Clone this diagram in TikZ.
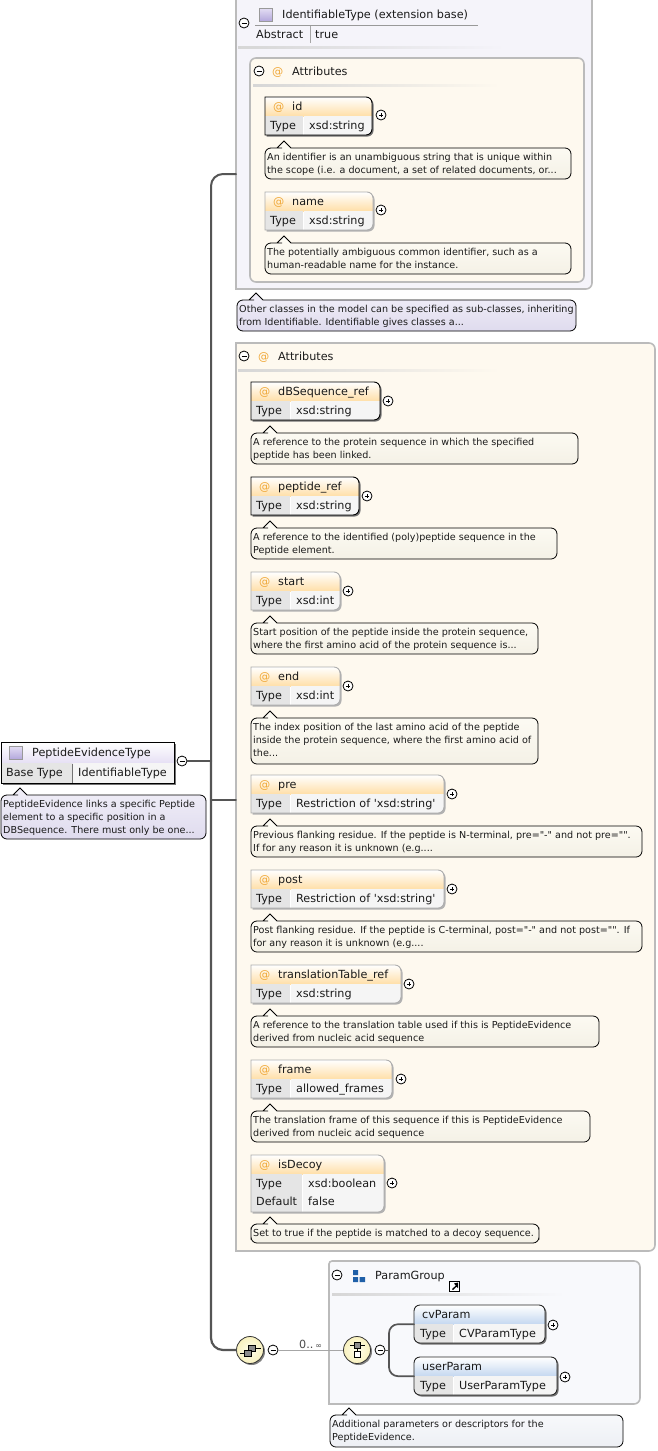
\documentclass[tikz,border=0pt]{standalone}
\usepackage{fontspec}
\newfontfamily\df{DejaVu Sans}
\usetikzlibrary{calc}
\definecolor{bluegrp}{HTML}{2060A8}
\definecolor{orangeat}{HTML}{F0A838}
\definecolor{attrbg}{HTML}{FEF9EF}
\definecolor{typebg}{HTML}{F5F4FA}
\definecolor{groupbg}{HTML}{F8F9FC}
\definecolor{framegray}{HTML}{BBBBBB}
\definecolor{linkgray}{HTML}{555555}
\definecolor{txtc}{HTML}{1A1A1A}
\definecolor{cellA}{HTML}{E5E5E5}
\definecolor{cellB}{HTML}{F5F5F5}
\definecolor{hdattr}{HTML}{FFDFA8}
\definecolor{hdelem}{HTML}{C5D8F0}
\definecolor{hdtype}{HTML}{E6E0F4}
\definecolor{iconA}{HTML}{E4DEF4}
\definecolor{iconB}{HTML}{B4A8DC}
\definecolor{docAa}{HTML}{FEFCF5}
\definecolor{docAb}{HTML}{F4F1E6}
\definecolor{docTa}{HTML}{F1EFF8}
\definecolor{docTb}{HTML}{DFDBEE}
\definecolor{docGa}{HTML}{FAFBFD}
\definecolor{docGb}{HTML}{EDEFF4}
\definecolor{icoA}{HTML}{FFFEEC}
\definecolor{icoB}{HTML}{F8F1BE}
\tikzset{
  x=1pt,y=-1pt,
  txt/.style={anchor=base west,inner sep=0pt,text=txtc,font=\df\fontsize{11.2}{13}\selectfont},
  doctxt/.style={anchor=north west,inner sep=0pt,align=left,text=txtc,font=\df\fontsize{9.6}{13}\selectfont},
  docattr/.style={draw=black,line width=.8pt,top color=docAa,bottom color=docAb},
  doctype/.style={draw=black,line width=.8pt,top color=docTa,bottom color=docTb},
  docgroup/.style={draw=black,line width=.8pt,top color=docGa,bottom color=docGb},
  togc/.style={circle,draw=black,fill=white,line width=.8pt,minimum size=10pt,inner sep=0pt},
  holder/.style={inner sep=0pt,anchor=north west,rectangle},
  link/.style={draw=linkgray,line cap=round},
  panel/.style={draw=framegray,line width=1.6pt},
  iconc/.style={circle,draw=black!80,line width=.8pt,minimum size=27pt,inner sep=0pt,inner color=icoA,outer color=icoB},
}
\newcommand\tog[3]{\node[togc] (#1) at (#2,#3) {};\draw[line width=.8pt] ({#2-2.5},#3) -- ({#2+2.5},#3);}
\newcommand\plusc[3]{\node[togc] (#1) at (#2,#3) {};\draw[line width=.7pt] ({#2-2.2},#3) -- ({#2+2.2},#3) ({#2},{#3-2.2}) -- ({#2},{#3+2.2});}
\newcommand\gline[4]{\shade[left color=black!16,right color=#4] (#1,#3) rectangle (#2,{#3+2});}
\newcommand\typeicon[2]{\shade[top color=iconA,bottom color=iconB,draw=black!40,line width=.7pt] (#1,#2) rectangle ({#1+13},{#2+13});}
% #1 id #2 x #3 y #4 xr #5 yb #6 style #7 text
\newcommand\doc[7]{%
  \path[#6,rounded corners=6pt] (#2,{(#3+#5)/2}) |- ({#2+11},#3) [sharp corners] -- ({#2+12},#3) -- ({#2+19},{#3-7}) -- ({#2+26},#3) -- ({#2+27},#3) [rounded corners=6pt] -| (#4,{(#3+#5)/2}) |- ({(#2+#4)/2},#5) -| (#2,{(#3+#5)/2}) -- cycle;
  \node[doctxt] (#1) at ({#2+2},{#3+3.5}) {\rule{0pt}{9pt}#7};}
% #1 id #2 x #3 y #4 xr #5 col #6 name #7 type #8 default #9 kind: 0 attr req,1 attr opt,2 elem
\newcommand\xbox[9]{%
  \def\dflt{#8}\ifx\dflt\empty\def\boxh{38}\else\def\boxh{57}\fi
  \pgfmathsetmacro\yb{#3+\boxh}\pgfmathsetmacro\ym{#3+\boxh/2}
  \ifnum#9=2 \def\rl{6pt}\def\hdc{hdelem}\def\bc{black!85}\def\nx{8}\def\tx{6}\def\shc{black!55}\else\def\rl{0pt}\def\hdc{hdattr}\def\nx{27}\def\tx{5}\ifnum#9=0 \def\bc{black}\def\shc{black!55}\else\def\bc{black!32}\def\shc{black!30}\fi\fi
  \def\bpath{[rounded corners=\rl] (#2,\ym) |- ({(#2+#4)/2},#3) [rounded corners=6pt] -| (#4,\ym) |- ({(#2+#4)/2},\yb) [rounded corners=\rl] -| (#2,\ym) -- cycle}%
  \begin{scope}[shift={(1.5,1.5)}]\fill[\shc] \bpath;\end{scope}
  \begin{scope}\clip \bpath;
    \fill[white] (#2,#3) rectangle (#4,\yb);
    \shade[top color=white,bottom color=\hdc] (#2,#3) rectangle (#4,{#3+19});
    \fill[cellA] (#2,{#3+19}) rectangle (#5,{#3+37.5});
    \fill[cellB] ({#5+1},{#3+19}) rectangle (#4,{#3+37.5});
    \ifx\dflt\empty\else
      \fill[cellA] (#2,{#3+38}) rectangle (#5,\yb);
      \fill[cellB] ({#5+1},{#3+38}) rectangle (#4,\yb);
    \fi
  \end{scope}
  \path[draw=\bc,line width=.9pt] \bpath;
  \node[holder,minimum width=#4-#2,minimum height=\boxh] (#1) at (#2,#3) {};
  \ifnum#9=2 \else\node[txt,text=orangeat] (#1at) at ({#2+8},{#3+13}) {@};\fi
  \node[txt] (#1name) at ({#2+\nx},{#3+13}) {#6};
  \node[txt] (#1tl) at ({#2+\tx},{#3+32.5}) {Type};
  \node[txt] (#1tv) at ({#5+6},{#3+32.5}) {#7};
  \ifx\dflt\empty\else
    \node[txt] (#1dl) at ({#2+\tx},{#3+50.5}) {Default};
    \node[txt] (#1dv) at ({#5+6},{#3+50.5}) {#8};
  \fi}
\newcommand\attr[7]{\xbox{#1}{251}{#2}{#3}{#4}{#5}{#6}{#7}{1}}
\begin{document}
\begin{tikzpicture}
\useasboundingbox (0,0) rectangle (657,1451);
\fill[white] (0,0) rectangle (657,1451);
% ---- outer extension panel
\path[panel,fill=typebg,rounded corners=0pt] (236,-2) -- (592,-2) [rounded corners=6pt] -- (592,289) [rounded corners=0pt] -- (236,289) -- cycle;
\node[holder,minimum width=356,minimum height=291] (ident) at (236,-2) {};
\coordinate (identin) at (236,174);
\typeicon{259}{8}
\node[txt] (identname) at (282,18) {IdentifiableType (extension base)};
\draw[black!40,line width=.7pt] (255,25.5) -- (478,25.5);
\draw[black!35,line width=.7pt] (310,25.5) -- (310,43);
\tog{identtog}{244}{23}
\node[txt] (abstractl) at (256,38) {Abstract};
\node[txt] (abstractv) at (315,38) {true};
\gline{238}{505}{46}{typebg}
% ---- inner attributes
\path[panel,fill=attrbg,rounded corners=6pt] (250,170) |- (417,58) -| (584,170) |- (417,282) -| (250,170) -- cycle;
\tog{iattog}{259}{71}
\node[txt,text=orangeat] (iatat) at (272,75) {@};
\node[txt] (iatname) at (292,75) {Attributes};
\gline{253}{500}{84.5}{attrbg}
\xbox{id}{265}{97}{372}{303}{id}{xsd:string}{}{0}
\plusc{idp}{381}{115}
\doc{iddoc}{265}{148}{571}{179}{docattr}{An identifier is an unambiguous string that is unique within\\the scope (i.e. a document, a set of related documents, or...}
\xbox{nm}{265}{192}{373}{303}{name}{xsd:string}{}{1}
\plusc{nmp}{381}{210}
\doc{nmdoc}{265}{243}{571}{274}{docattr}{The potentially ambiguous common identifier, such as a\\human-readable name for the instance.}
\doc{identdoc}{237}{300}{576}{331}{doctype}{Other classes in the model can be specified as sub-classes, inheriting\\from Identifiable. Identifiable gives classes a...}
% ---- big attributes
\path[panel,fill=attrbg,rounded corners=0pt] (236,343) [rounded corners=6pt] -| (655,800) |- (400,1251) [rounded corners=0pt] -| (236,343) -- cycle;
\node[holder,minimum width=419,minimum height=908] (attrs) at (236,343) {};
\coordinate (attrsin) at (236,800);
\tog{attog}{244}{356}
\node[txt,text=orangeat] (atat) at (258,360) {@};
\node[txt] (atname) at (278,360) {Attributes};
\gline{238}{500}{369.5}{attrbg}
\xbox{dbs}{251}{382}{380}{290}{dBSequence\_ref}{xsd:string}{}{0}
\plusc{dbsp}{388}{401}
\doc{dbsdoc}{251}{433}{578}{464}{docattr}{A reference to the protein sequence in which the specified\\peptide has been linked.}
\xbox{pep}{251}{477}{359}{290}{peptide\_ref}{xsd:string}{}{0}
\plusc{pepp}{367}{496}
\doc{pepdoc}{251}{528}{557}{559}{docattr}{A reference to the identified (poly)peptide sequence in the\\Peptide element.}
\attr{st}{572}{340}{290}{start}{xsd:int}{}
\plusc{stp}{348}{591}
\doc{stdoc}{251}{623}{538}{654}{docattr}{Start position of the peptide inside the protein sequence,\\where the first amino acid of the protein sequence is...}
\attr{en}{667}{340}{290}{end}{xsd:int}{}
\plusc{enp}{348}{686}
\doc{endoc}{251}{718}{538}{764}{docattr}{The index position of the last amino acid of the peptide\\inside the protein sequence, where the first amino acid of\\the...}
\attr{pr}{775}{444}{290}{pre}{Restriction of 'xsd:string'}{}
\plusc{prp}{452}{794}
\doc{prdoc}{251}{826}{642}{857}{docattr}{Previous flanking residue. If the peptide is N-terminal, pre="-" and not pre="".\\If for any reason it is unknown (e.g....}
\attr{po}{870}{444}{290}{post}{Restriction of 'xsd:string'}{}
\plusc{pop}{452}{889}
\doc{podoc}{251}{921}{642}{952}{docattr}{Post flanking residue. If the peptide is C-terminal, post="-" and not post="". If\\for any reason it is unknown (e.g....}
\attr{tt}{965}{401}{290}{translationTable\_ref}{xsd:string}{}
\plusc{ttp}{409}{984}
\doc{ttdoc}{251}{1016}{599}{1047}{docattr}{A reference to the translation table used if this is PeptideEvidence\\derived from nucleic acid sequence}
\attr{fr}{1060}{392}{290}{frame}{allowed\_frames}{}
\plusc{frp}{401}{1079}
\doc{frdoc}{251}{1111}{590}{1142}{docattr}{The translation frame of this sequence if this is PeptideEvidence\\derived from nucleic acid sequence}
\attr{de}{1155}{384}{302}{isDecoy}{xsd:boolean}{false}
\plusc{dep}{392}{1183}
\doc{dedoc}{251}{1224}{539}{1243}{docattr}{Set to true if the peptide is matched to a decoy sequence.}
% ---- root type
\fill[black!55] (2.5,743.5) rectangle (175.5,784.5);
\shade[top color=white,bottom color=hdtype] (1,742) rectangle (174,763);
\fill[cellA] (1,763) rectangle (72,783);
\fill[cellB] (73,763) rectangle (174,783);
\draw[black,line width=.9pt] (1,742) rectangle (174,783);
\node[holder,minimum width=173,minimum height=41] (pet) at (1,742) {};
\typeicon{9}{746}
\node[txt] (petname) at (32,756) {PeptideEvidenceType};
\node[txt] (petl) at (6,776.5) {Base Type};
\node[txt] (petv) at (78,776.5) {IdentifiableType};
\tog{pettog}{182}{761}
\doc{petdoc}{1}{795}{206}{839}{doctype}{PeptideEvidence links a specific Peptide\\element to a specific position in a\\DBSequence. There must only be one...}
% ---- param group
\path[panel,fill=groupbg,rounded corners=3pt] (329,1330) |- (480,1261) [rounded corners=6pt] -| (640,1330) |- (480,1404) [rounded corners=0pt] -| (329,1330) -- cycle;
\node[holder,minimum width=311,minimum height=143] (group) at (329,1261) {};
\coordinate (groupin) at (329,1350);
\tog{grouptog}{337}{1275}
\fill[bluegrp] (353,1270) rectangle (358,1275) (353,1277) rectangle (358,1282) (359.5,1277) rectangle (365,1282);
\node[txt] (groupname) at (375,1279) {ParamGroup};
\draw[black,fill=white,line width=1pt] (449.5,1281) rectangle (459.5,1291);
\fill[black] (452,1289) -- (456,1285.5) -- (454,1283.5) -- (458,1282.5) -- (458,1288) -- (456.5,1286.5) -- (453,1290) -- cycle;
\gline{332}{565}{1293.5}{groupbg}
\xbox{cv}{414}{1305}{545}{453}{cvParam}{CVParamType}{}{2}
\plusc{cvp}{553}{1325}
\xbox{us}{414}{1357}{557}{453}{userParam}{UserParamType}{}{2}
\plusc{usp}{565}{1377}
\doc{groupdoc}{330}{1415}{623}{1447}{docgroup}{Additional parameters or descriptors for the\\PeptideEvidence.}
% ---- sequence + choice
\coordinate (trunk) at (211,761);
\draw[link,line width=2.4pt] (pettog.east) -- (trunk);
\draw[link,line width=2pt,rounded corners=12pt] (trunk) |- (identin);
\draw[link,line width=1.5pt] (211,800) -- (attrsin);
\fill[black!50] (251.5,1351.5) circle (13.5pt);
\fill[black!50] (358.5,1351.5) circle (13.5pt);
\node[iconc] (seq) at (250,1350) {};
\node[iconc] (cho) at (357,1350) {};
\draw[link,line width=2.2pt,rounded corners=12pt] (trunk) |- (seq.west);
\tog{seqtog}{273}{1350}
\tog{chotog}{380}{1350}
\draw[black!35,line width=.8pt] (seqtog.east) -- (cho.west);
\node[txt,text=black!70] (occ) at (299,1348) {0..\,\fontsize{8}{10}\selectfont∞};
% sequence glyph
\draw[black,line width=.7pt] (240,1353) -- (244.3,1353) (255.5,1348) -- (261,1348);
\draw[black,fill=black!45,line width=.7pt] (248.7,1345) rectangle (255.5,1351.7);
\draw[black,fill=black!45,line width=.7pt] (244.3,1350) rectangle (251,1356.7);
% choice glyph
\draw[black,line width=.7pt] (350,1345.5) -- (365,1345.5) (357.5,1345.5) -- (357.5,1351.5);
\draw[black,fill=black!45,line width=.7pt] (354.3,1342.7) rectangle (360.7,1348.2);
\draw[black,fill=white,line width=.7pt] (354.3,1351.5) rectangle (360.7,1357.3);
% choice to children
\coordinate (fork) at (389,1350);
\draw[link,line width=.9pt] (chotog.east) -- (fork);
\draw[link,line width=1.7pt,rounded corners=9pt] (fork) |- (cv.west);
\draw[link,line width=1.7pt,rounded corners=9pt] (fork) |- (us.west);
\end{tikzpicture}
\end{document}
